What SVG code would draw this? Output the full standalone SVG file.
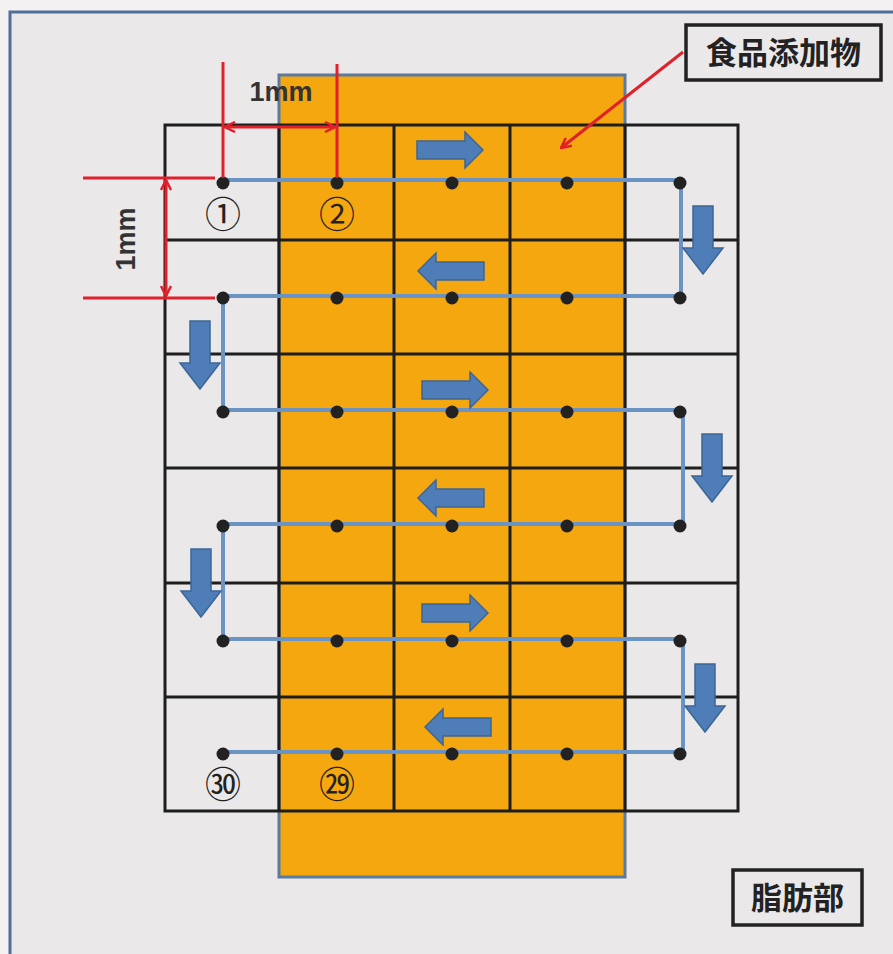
<svg xmlns="http://www.w3.org/2000/svg" width="893" height="954" viewBox="0 0 893 954">
<style>
.grid{fill:none;stroke:#1e1e1e;stroke-width:3}
.red{stroke:#e0202a;stroke-width:3;fill:none}
.path{fill:none;stroke:#6b93c4;stroke-width:4;stroke-linejoin:miter}
.dot{fill:#222}
.blk{fill:#4e7db8;stroke:#3d6596;stroke-width:1.5}
.lbl{font-family:"Noto Sans CJK JP","Noto Sans",sans-serif;font-weight:bold;fill:#222}
.num{font-family:"Noto Sans CJK JP","DejaVu Sans",sans-serif;font-size:36px;fill:#222;text-anchor:middle}
.box{fill:#ebe8e9;stroke:#222;stroke-width:3.5}
.dim{font-family:"Liberation Sans",Arial,sans-serif;font-size:27px;font-weight:bold;fill:#333;text-anchor:middle}
</style>
<defs>
<marker id="ah" viewBox="0 0 12 12" refX="11" refY="6" markerWidth="12" markerHeight="12" markerUnits="userSpaceOnUse" orient="auto-start-reverse">
<path d="M1,1 L11,6 L1,11" fill="none" stroke="#e0202a" stroke-width="2.5"/>
</marker>
<path id="ra" d="M0,-9 L48,-9 L48,-18 L66,0 L48,18 L48,9 L0,9 Z"/>
<path id="la" d="M66,-9 L18,-9 L18,-18 L0,0 L18,18 L18,9 L66,9 Z"/>
<path id="da" d="M-10,0 L10,0 L10,42 L20,42 L0,68 L-20,42 L-10,42 Z"/>
</defs>
<rect x="0" y="0" width="893" height="954" fill="#f3f1f1"/>
<rect x="10" y="12" width="900" height="960" fill="#ebe8e9" stroke="#4e6f98" stroke-width="3"/>
<g id="fat-strip">
<rect x="279" y="75" width="346" height="802" fill="#f5a70f" stroke="#5b7aa0" stroke-width="3"/>
</g>
<g id="grid">
<rect class="grid" x="165" y="125" width="573" height="686"/>
<path class="grid" d="M279,125V811M394,125V811M510,125V811M625,125V811M165,240H738M165,354H738M165,468H738M165,583H738M165,697H738"/>
</g>
<g id="connectors">
<path class="path" d="M223,180H681V296H223V410H683V524H223V639H683V752H223"/>
<g id="block-arrows">
<use href="#ra" class="blk" transform="translate(417,150)"/>
<use href="#la" class="blk" transform="translate(418,271)"/>
<use href="#ra" class="blk" transform="translate(422,390)"/>
<use href="#la" class="blk" transform="translate(418,498)"/>
<use href="#ra" class="blk" transform="translate(422,613)"/>
<use href="#la" class="blk" transform="translate(425,727)"/>
<use href="#da" class="blk" transform="translate(703,206)"/>
<use href="#da" class="blk" transform="translate(712,434)"/>
<use href="#da" class="blk" transform="translate(705,664)"/>
<use href="#da" class="blk" transform="translate(200,321)"/>
<use href="#da" class="blk" transform="translate(201,549)"/>
</g>
<path class="red" d="M561,148 L683,52" marker-start="url(#ah)"/>
</g>
<g id="dots">
<circle class="dot" cx="223" cy="183" r="6.5"/><circle class="dot" cx="337" cy="183" r="6.5"/><circle class="dot" cx="452" cy="183" r="6.5"/><circle class="dot" cx="567" cy="183" r="6.5"/><circle class="dot" cx="680" cy="183" r="6.5"/>
<circle class="dot" cx="223" cy="298" r="6.5"/><circle class="dot" cx="337" cy="298" r="6.5"/><circle class="dot" cx="452" cy="298" r="6.5"/><circle class="dot" cx="567" cy="298" r="6.5"/><circle class="dot" cx="680" cy="298" r="6.5"/>
<circle class="dot" cx="223" cy="412" r="6.5"/><circle class="dot" cx="337" cy="412" r="6.5"/><circle class="dot" cx="452" cy="412" r="6.5"/><circle class="dot" cx="567" cy="412" r="6.5"/><circle class="dot" cx="680" cy="412" r="6.5"/>
<circle class="dot" cx="223" cy="526" r="6.5"/><circle class="dot" cx="337" cy="526" r="6.5"/><circle class="dot" cx="452" cy="526" r="6.5"/><circle class="dot" cx="567" cy="526" r="6.5"/><circle class="dot" cx="680" cy="526" r="6.5"/>
<circle class="dot" cx="223" cy="641" r="6.5"/><circle class="dot" cx="337" cy="641" r="6.5"/><circle class="dot" cx="452" cy="641" r="6.5"/><circle class="dot" cx="567" cy="641" r="6.5"/><circle class="dot" cx="680" cy="641" r="6.5"/>
<circle class="dot" cx="223" cy="754" r="6.5"/><circle class="dot" cx="337" cy="754" r="6.5"/><circle class="dot" cx="452" cy="754" r="6.5"/><circle class="dot" cx="567" cy="754" r="6.5"/><circle class="dot" cx="680" cy="754" r="6.5"/>
</g>
<g id="dimensions">
<path class="red" d="M223,62V178M337,64V178M83,178H215M83,298H215"/>
<path class="red" d="M225,127H335" marker-start="url(#ah)" marker-end="url(#ah)"/>
<path class="red" d="M166,180V296" marker-start="url(#ah)" marker-end="url(#ah)"/>
<text class="dim" x="281" y="101">1mm</text>
<text class="dim" transform="translate(135,239) rotate(-90)">1mm</text>
</g>
<g id="numbers">
<text class="num" x="223" y="228">①</text>
<text class="num" x="337" y="228">②</text>
<text class="num" x="223" y="798">㉚</text>
<text class="num" x="337" y="798">㉙</text>
</g>
<g id="label-additive">
<rect class="box" x="686" y="25" width="195" height="55"/>
<text class="lbl" x="783.5" y="64" font-size="31" text-anchor="middle">食品添加物</text>
</g>
<g id="label-fat">
<rect class="box" x="733" y="870" width="129" height="55"/>
<text class="lbl" x="797.5" y="909" font-size="31" text-anchor="middle">脂肪部</text>
</g>
</svg>
